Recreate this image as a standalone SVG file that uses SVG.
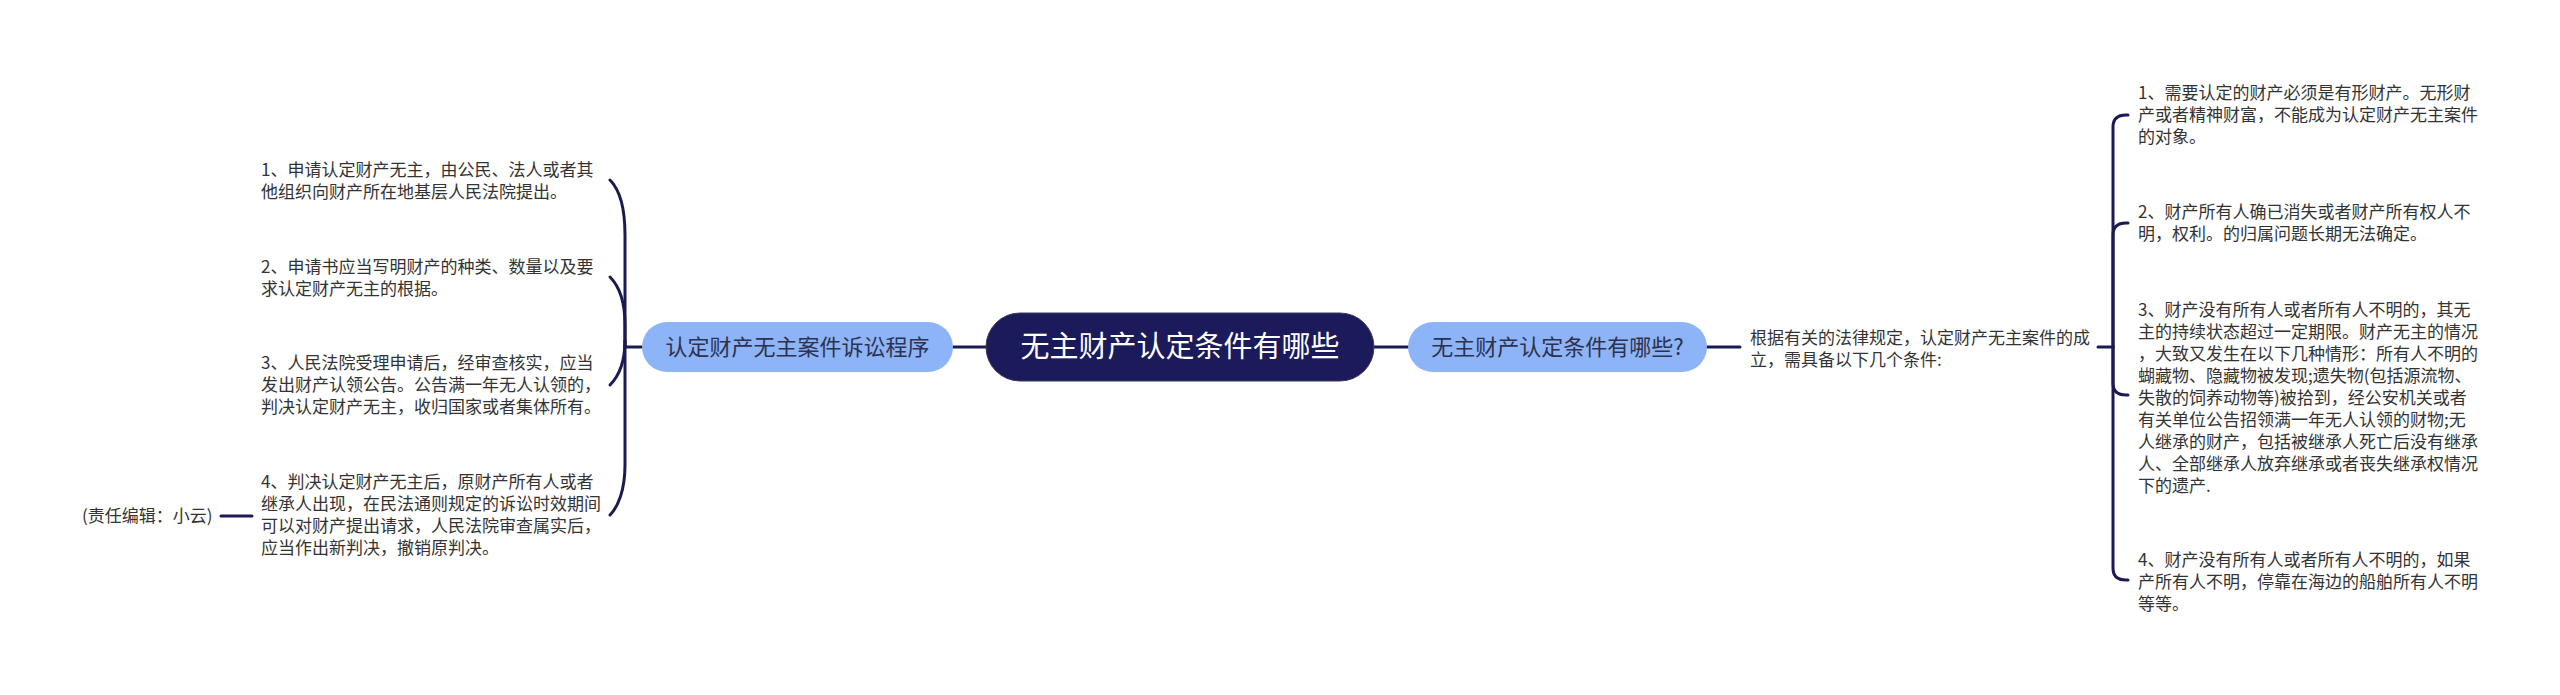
<svg xmlns="http://www.w3.org/2000/svg" width="2560" height="695" viewBox="0 0 2560 695">
<style>
.t{font-family:"Noto Sans CJK SC","Liberation Sans",sans-serif;font-size:17px;fill:#333}
.c{fill:none;stroke:#1b1a52;stroke-width:3;stroke-linecap:round}
.sub{fill:#8cb4f6}
.subt{font-family:"Noto Sans CJK SC","Liberation Sans",sans-serif;font-size:22px;fill:#2e3150;text-anchor:middle}
.main{fill:#1b1a5a;stroke:#3a3a60;stroke-width:1}
.maint{font-family:"Noto Sans CJK SC","Liberation Sans",sans-serif;font-size:29px;fill:#fff;text-anchor:middle}
</style>
<rect width="2560" height="695" fill="#fff"/>
<g id="connectors">
<path class="c" d="M953,347 H986"/>
<path class="c" d="M1374,347 H1408"/>
<path class="c" d="M1707,347 H1740"/>
<path class="c" d="M642,347 H625"/>
<path class="c" d="M625,347 L625,235 C625,205 618,188 610,180"/>
<path class="c" d="M625,347 L625,325 C625,300 618,285 610,277"/>
<path class="c" d="M625,347 L625,340 C625,365 618,377 610,385"/>
<path class="c" d="M625,347 L625,465 C625,490 618,507 610,515"/>
<path class="c" d="M252,516 H221"/>
<path class="c" d="M2098,347 H2113"/>
<path class="c" d="M2113,347 V127 Q2113,115 2126,115 H2128"/>
<path class="c" d="M2113,347 V235 Q2113,223 2126,223 H2128"/>
<path class="c" d="M2113,347 V383 Q2113,395 2126,395 H2128"/>
<path class="c" d="M2113,347 V568 Q2113,580 2126,580 H2128"/>
</g>
<g id="center">
<rect class="main" x="986" y="313" width="388" height="68" rx="34"/>
<text class="maint" x="1180" y="357">无主财产认定条件有哪些</text>
</g>
<g id="left-node">
<rect class="sub" x="642" y="322" width="311" height="50" rx="25"/>
<text class="subt" x="797.5" y="355">认定财产无主案件诉讼程序</text>
</g>
<g id="right-node">
<rect class="sub" x="1408" y="322" width="299" height="50" rx="25"/>
<text class="subt" x="1557.5" y="355">无主财产认定条件有哪些?</text>
</g>
<g id="left-1">
<text class="t" x="261" y="176">1、申请认定财产无主，由公民、法人或者其</text>
<text class="t" x="261" y="198">他组织向财产所在地基层人民法院提出。</text>
</g>
<g id="left-2">
<text class="t" x="261" y="273">2、申请书应当写明财产的种类、数量以及要</text>
<text class="t" x="261" y="295">求认定财产无主的根据。</text>
</g>
<g id="left-3">
<text class="t" x="261" y="369">3、人民法院受理申请后，经审查核实，应当</text>
<text class="t" x="261" y="391">发出财产认领公告。公告满一年无人认领的，</text>
<text class="t" x="261" y="413">判决认定财产无主，收归国家或者集体所有。</text>
</g>
<g id="left-4">
<text class="t" x="261" y="488">4、判决认定财产无主后，原财产所有人或者</text>
<text class="t" x="261" y="510">继承人出现，在民法通则规定的诉讼时效期间</text>
<text class="t" x="261" y="532">可以对财产提出请求，人民法院审查属实后，</text>
<text class="t" x="261" y="554">应当作出新判决，撤销原判决。</text>
</g>
<g id="editor">
<text class="t" x="82" y="522">(责任编辑：小云)</text>
</g>
<g id="right-main">
<text class="t" x="1750" y="344">根据有关的法律规定，认定财产无主案件的成</text>
<text class="t" x="1750" y="366">立，需具备以下几个条件:</text>
</g>
<g id="right-1">
<text class="t" x="2138" y="99">1、需要认定的财产必须是有形财产。无形财</text>
<text class="t" x="2138" y="121">产或者精神财富，不能成为认定财产无主案件</text>
<text class="t" x="2138" y="143">的对象。</text>
</g>
<g id="right-2">
<text class="t" x="2138" y="218">2、财产所有人确已消失或者财产所有权人不</text>
<text class="t" x="2138" y="240">明，权利。的归属问题长期无法确定。</text>
</g>
<g id="right-3">
<text class="t" x="2138" y="316">3、财产没有所有人或者所有人不明的，其无</text>
<text class="t" x="2138" y="338">主的持续状态超过一定期限。财产无主的情况</text>
<text class="t" x="2138" y="360">，大致又发生在以下几种情形：所有人不明的</text>
<text class="t" x="2138" y="382">蝴藏物、隐藏物被发现;遗失物(包括源流物、</text>
<text class="t" x="2138" y="404">失散的饲养动物等)被拾到，经公安机关或者</text>
<text class="t" x="2138" y="426">有关单位公告招领满一年无人认领的财物;无</text>
<text class="t" x="2138" y="448">人继承的财产，包括被继承人死亡后没有继承</text>
<text class="t" x="2138" y="470">人、全部继承人放弃继承或者丧失继承权情况</text>
<text class="t" x="2138" y="492">下的遗产.</text>
</g>
<g id="right-4">
<text class="t" x="2138" y="566">4、财产没有所有人或者所有人不明的，如果</text>
<text class="t" x="2138" y="588">产所有人不明，停靠在海边的船舶所有人不明</text>
<text class="t" x="2138" y="610">等等。</text>
</g>
</svg>
